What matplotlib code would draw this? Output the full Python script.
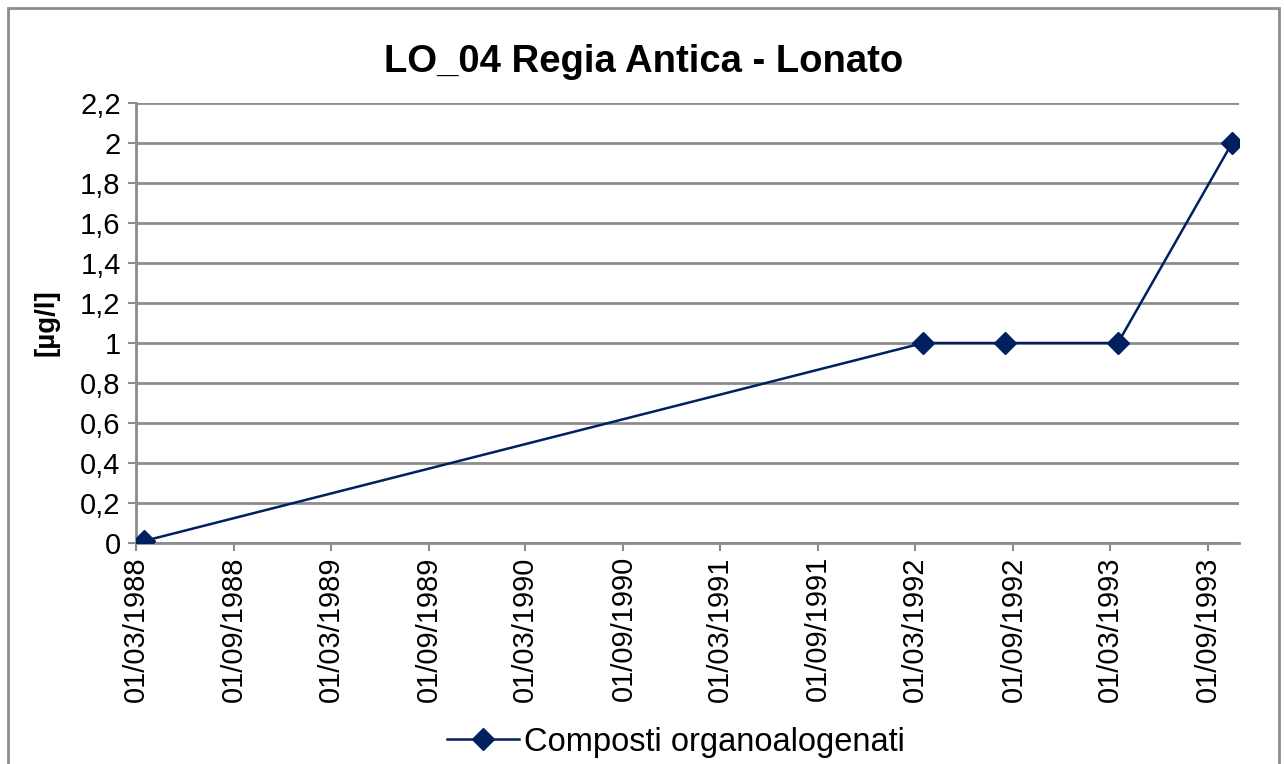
import matplotlib
matplotlib.use("Agg")
import matplotlib.pyplot as plt
import matplotlib.dates as mdates
from matplotlib.patches import Rectangle
from matplotlib.ticker import FuncFormatter, MultipleLocator
import datetime as dt

plt.rcParams['font.family'] = ['Liberation Sans', 'DejaVu Sans']

# data
dates = [dt.date(1988, 3, 16), dt.date(1992, 3, 16), dt.date(1992, 8, 16),
         dt.date(1993, 3, 16), dt.date(1993, 10, 16)]
values = [0.01, 1, 1, 1, 2]
series_name = "Composti organoalogenati"
title = "LO_04 Regia Antica - Lonato"
ylabel = "[µg/l]"

tick_dates = []
for y in range(1988, 1994):
    tick_dates.append(dt.date(y, 3, 1))
    tick_dates.append(dt.date(y, 9, 1))

navy = "#002060"
grey = "#8c8c8c"

fig = plt.figure(figsize=(12.84, 7.64), dpi=100)
ax = fig.add_axes([136/1284, 1 - 543/764, (1239-136)/1284, (543-103)/764])

ax.plot(dates, values, color=navy, lw=1.8, marker='D', markersize=11,
        markerfacecolor=navy, markeredgecolor=navy, label=series_name, zorder=3)

ax.set_xlim(dt.date(1988, 3, 1), dt.date(1993, 10, 29))
ax.set_ylim(0, 2.2)
ax.yaxis.set_major_locator(MultipleLocator(0.2))
ax.yaxis.set_major_formatter(FuncFormatter(
    lambda v, p: ("%g" % round(v, 1)).replace('.', ',')))
ax.set_xticks(tick_dates)
ax.xaxis.set_major_formatter(mdates.DateFormatter("%d/%m/%Y"))
plt.setp(ax.get_xticklabels(), rotation=90)

ax.grid(axis='y', color=grey, lw=2)
ax.set_axisbelow(True)
for s in ['top', 'right']:
    ax.spines[s].set_visible(False)
for s in ['left', 'bottom']:
    ax.spines[s].set_color(grey)
    ax.spines[s].set_linewidth(2)
ax.tick_params(axis='both', colors=grey, labelcolor='black', labelsize=21,
               width=1.5, length=6)
ax.tick_params(axis='y', pad=5)

fig.suptitle(title, x=644/1284, y=1 - 44/764, fontsize=27.5, fontweight='bold')
ax.set_ylabel(ylabel, fontsize=20, fontweight='bold', labelpad=15)

fig.legend(loc='lower center', bbox_to_anchor=(676/1284, -0.03), frameon=False,
           fontsize=23.5, handlelength=2.2, handletextpad=0.15)

fig.patches.append(Rectangle((8/1284, -0.05), (1279-8)/1284, 1.05 - 8/764,
                             transform=fig.transFigure, fill=False,
                             edgecolor=grey, lw=2))

fig.savefig("out.png", dpi=100)
